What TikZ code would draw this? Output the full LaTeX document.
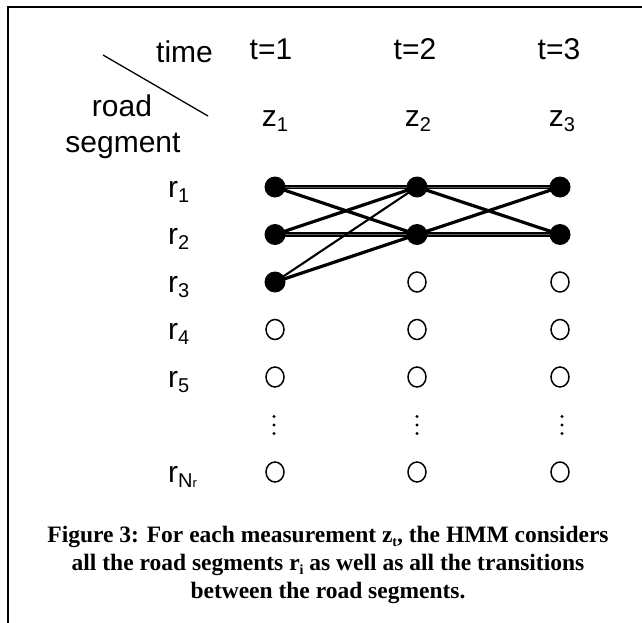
\documentclass[tikz,border=0pt]{standalone}
\usepackage{fontspec}
\setmainfont{Liberation Sans}
\newfontfamily\capfont{Liberation Serif}
\usetikzlibrary{shapes.geometric,backgrounds}
\newcommand\lowsub[1]{\raisebox{-5pt}{\fontsize{20}{20}\selectfont #1}}
\newcommand\capsub[1]{\raisebox{-4pt}{\fontsize{14}{14}\selectfont #1}}
\begin{document}
\begin{tikzpicture}[x=1pt,y=-1pt,
  lbl/.style={font=\fontsize{30}{34}\selectfont, inner sep=0pt, anchor=base},
  rlbl/.style={font=\fontsize{30}{34}\selectfont, inner sep=0pt, anchor=base west},
  full/.style={circle, fill=black, inner sep=0pt, minimum size=21pt},
  hollow/.style={ellipse, draw, line width=1.5pt, inner sep=0pt, minimum width=18pt, minimum height=20pt},
  vdot/.style={circle, fill=black, inner sep=0pt, minimum size=3.4pt},
  edgeline/.style={line width=3.2pt},
  thinedge/.style={line width=2.1pt},
  hedge/.style={line width=1.6pt, double=gray!70!black, double distance=0.9pt},
  framestyle/.style={line width=1.3pt},
  captext/.style={font=\capfont\bfseries\fontsize{23.5}{28}\selectfont, inner sep=0pt, anchor=base}]
\useasboundingbox (0,0) rectangle (642,623);
% frame
\coordinate (f1) at (8,623);
\coordinate (f2) at (8,7);
\coordinate (f3) at (642,7);
\draw[framestyle] (f1) -- (f2) -- (f3);
% header
\node[lbl] (time) at (184.5,63) {time};
\node[lbl] (t1) at (271,60) {t=1};
\node[lbl] (t2) at (415,60) {t=2};
\node[lbl] (t3) at (559,60) {t=3};
\coordinate (d1) at (103,55);
\coordinate (d2) at (208,116);
\draw[line width=1.3pt] (d1) -- (d2);
\node[lbl] (road) at (122,117) {road};
\node[lbl] (segment) at (123,152) {segment};
\node[lbl] (z1) at (275,127) {z\lowsub{1}};
\node[lbl] (z2) at (418,127) {z\lowsub{2}};
\node[lbl] (z3) at (562,127) {z\lowsub{3}};
% row labels
\node[rlbl] (r1) at (168,197) {r\lowsub{1}};
\node[rlbl] (r2) at (168,244.5) {r\lowsub{2}};
\node[rlbl] (r3) at (168,292) {r\lowsub{3}};
\node[rlbl] (r4) at (168,339.5) {r\lowsub{4}};
\node[rlbl] (r5) at (168,387) {r\lowsub{5}};
\node[rlbl] (rN) at (168,482) {r\lowsub{N\raisebox{0pt}{\fontsize{13}{13}\selectfont r}}};
% states
\node[full] (a1) at (275,187) {};
\node[full] (a2) at (275,234.5) {};
\node[full] (a3) at (275,282) {};
\node[hollow] (a4) at (275,329.5) {};
\node[hollow] (a5) at (275,377) {};
\node[hollow] (aN) at (275,472) {};
\node[full] (b1) at (417,187) {};
\node[full] (b2) at (417,234.5) {};
\node[hollow] (b3) at (417,282) {};
\node[hollow] (b4) at (417,329.5) {};
\node[hollow] (b5) at (417,377) {};
\node[hollow] (bN) at (417,472) {};
\node[full] (c1) at (560,187) {};
\node[full] (c2) at (560,234.5) {};
\node[hollow] (c3) at (560,282) {};
\node[hollow] (c4) at (560,329.5) {};
\node[hollow] (c5) at (560,377) {};
\node[hollow] (cN) at (560,472) {};
% vertical dots
\foreach \n/\x in {a/274,b/417,c/562}{
  \node[vdot] (\n d1) at (\x,416.5) {};
  \node[vdot] (\n d2) at (\x,425) {};
  \node[vdot] (\n d3) at (\x,433.5) {};
}
% transitions
\begin{scope}[on background layer]
\draw[hedge] (a1.center) -- (b1.center);
\draw[hedge] (a2.center) -- (b2.center);
\draw[hedge] (b1.center) -- (c1.center);
\draw[hedge] (b2.center) -- (c2.center);
\draw[edgeline] (a1.center) -- (b2.center);
\draw[edgeline] (a2.center) -- (b1.center);
\draw[thinedge] (a3.center) -- (b1.center);
\draw[edgeline] (a3.center) -- (b2.center);
\draw[edgeline] (b1.center) -- (c2.center);
\draw[edgeline] (b2.center) -- (c1.center);
\end{scope}
% caption
\node[captext] (cap1) at (328,542) {Figure 3: For each measurement z\capsub{t}, the HMM considers};
\node[captext] (cap2) at (328,570) {all the road segments r\capsub{i} as well as all the transitions};
\node[captext] (cap3) at (328,598) {between the road segments.};
\end{tikzpicture}
\end{document}
